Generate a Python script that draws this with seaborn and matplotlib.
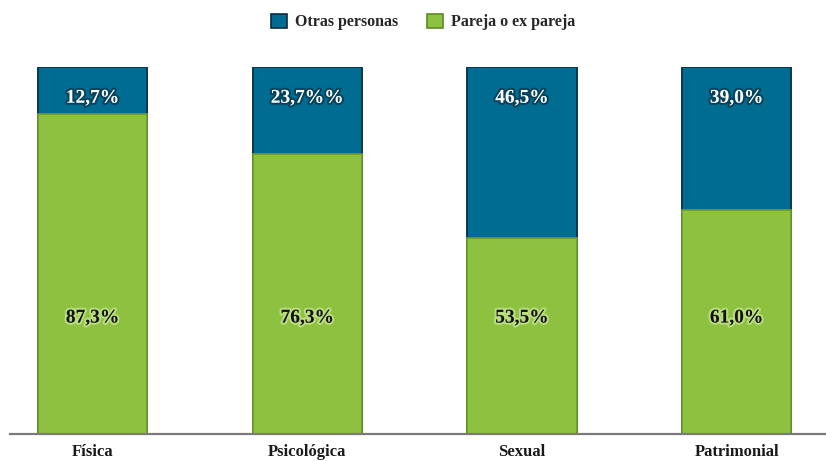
import matplotlib
matplotlib.use("Agg")
import matplotlib.pyplot as plt
import matplotlib.patheffects as pe
from matplotlib.patches import Patch
import seaborn as sns
import pandas as pd

categories = ["Física", "Psicológica", "Sexual", "Patrimonial"]
otras_personas = [12.7, 23.7, 46.5, 39.0]
pareja = [87.3, 76.3, 53.5, 61.0]
otras_labels = ["12,7%", "23,7%%", "46,5%", "39,0%"]
pareja_labels = ["87,3%", "76,3%", "53,5%", "61,0%"]

BLUE = "#006c92"
GREEN = "#8dc13f"

sns.set_theme(style="white")
plt.rcParams["font.family"] = ["Liberation Serif", "DejaVu Serif"]

df = pd.DataFrame({
    "categoria": categories,
    "total": [o + p for o, p in zip(otras_personas, pareja)],
    "pareja": pareja,
})

fig = plt.figure(figsize=(8.26, 4.61), dpi=100)
ax = fig.add_axes([10 / 826, 27 / 461, 816 / 826, 367 / 461])

sns.barplot(data=df, x="categoria", y="total", color=BLUE, width=0.51,
            edgecolor="#0b3550", linewidth=1.4, saturation=1, ax=ax)
sns.barplot(data=df, x="categoria", y="pareja", color=GREEN, width=0.51,
            edgecolor="#6f9e2a", linewidth=1.2, saturation=1, ax=ax)

ax.set_ylim(0, 100)
ax.set_xlim(-0.385, 3.416)
ax.set_xlabel("")
ax.set_ylabel("")
ax.set_yticks([])
for side in ["top", "left", "right"]:
    ax.spines[side].set_visible(False)
ax.spines["bottom"].set_color("#7a7a7a")
ax.spines["bottom"].set_linewidth(1.6)
ax.tick_params(axis="x", length=0, pad=7)
for lbl in ax.get_xticklabels():
    lbl.set_fontsize(12)
    lbl.set_fontweight("bold")
    lbl.set_color("#1a1a1a")

white_fx = [pe.withStroke(linewidth=3, foreground="#0a2233", alpha=0.55)]
dark_fx = [pe.withStroke(linewidth=3, foreground="#d8f0a8", alpha=0.6)]
for i in range(len(categories)):
    ax.text(i, 91.5, otras_labels[i], ha="center", va="center",
            fontsize=14, fontweight="bold", color="white", path_effects=white_fx)
    ax.text(i, 31.6, pareja_labels[i], ha="center", va="center",
            fontsize=14, fontweight="bold", color="#111111", path_effects=dark_fx)

handles = [Patch(facecolor=BLUE, edgecolor="#0b2a40", linewidth=1.2, label="Otras personas"),
           Patch(facecolor=GREEN, edgecolor="#5f8a22", linewidth=1.2, label="Pareja o ex pareja")]
leg = fig.legend(handles=handles, loc="center", bbox_to_anchor=(0.512, 1 - 22 / 461),
                 ncol=2, frameon=False, handlelength=1.0, handleheight=1.0,
                 columnspacing=1.8, handletextpad=0.5,
                 prop={"family": ["Liberation Serif"], "weight": "bold", "size": 11.5})

fig.savefig("out.png", dpi=100)
